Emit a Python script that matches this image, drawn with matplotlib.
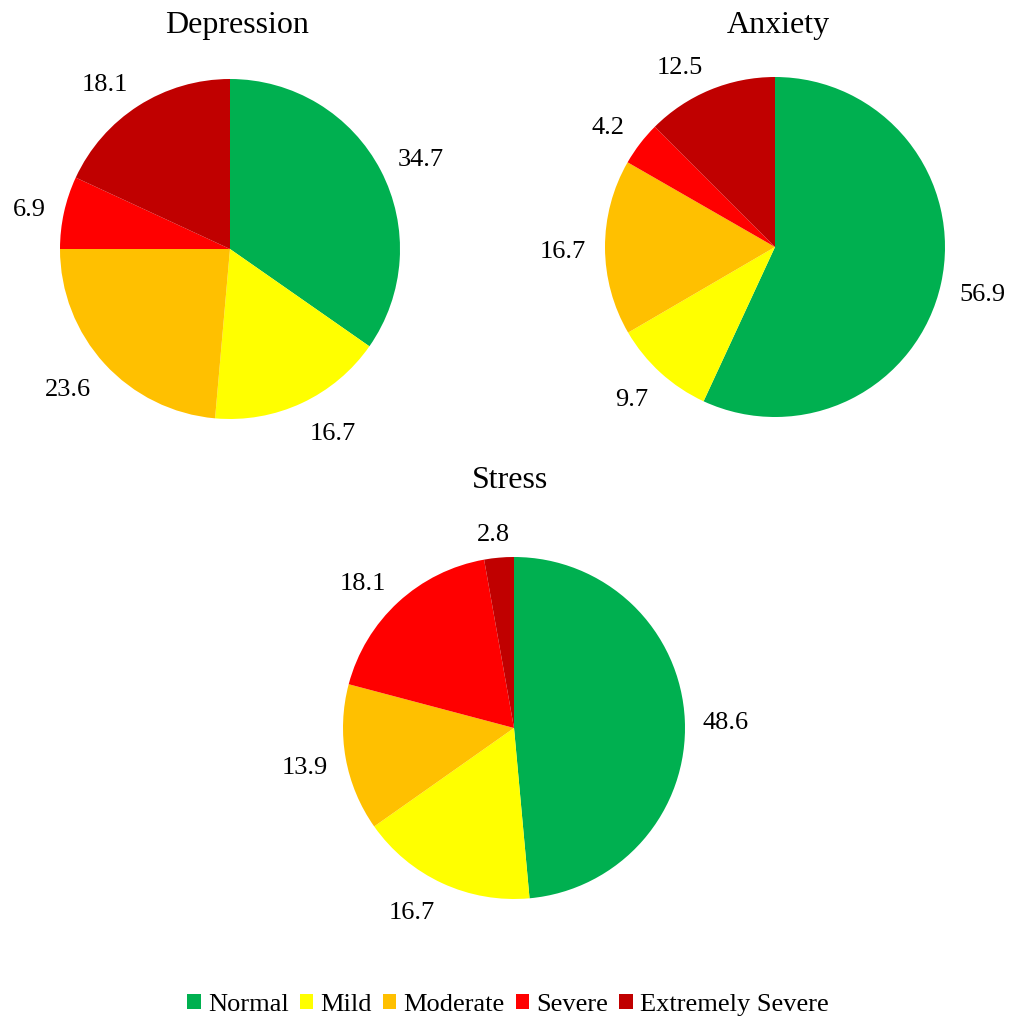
import matplotlib
matplotlib.use("Agg")
import numpy as np
import matplotlib.pyplot as plt
from matplotlib.patches import Patch

plt.rcParams['font.family'] = ['Liberation Serif', 'DejaVu Serif']

categories = ["Normal", "Mild", "Moderate", "Severe", "Extremely Severe"]
colors = ["#00B050", "#FFFF00", "#FFC000", "#FF0000", "#C00000"]
depression = [34.7, 16.7, 23.6, 6.9, 18.1]
anxiety = [56.9, 9.7, 16.7, 4.2, 12.5]
stress = [48.6, 16.7, 13.9, 18.1, 2.8]
titles = ["Depression", "Anxiety", "Stress"]

W, H = 1016, 1023
fig = plt.figure(figsize=(W / 100, H / 100), dpi=100)
renderer = fig.canvas.get_renderer()

specs = [(230, 249, 170, depression),
         (775, 247, 170, anxiety),
         (514, 728, 171, stress)]

DIST = 189.0   # px from pie centre to label anchor
CAP = 18.0     # visual height of digits, px
for cx, cy, r, vals in specs:
    ax = fig.add_axes([(cx - r) / W, (H - cy - r) / H, 2 * r / W, 2 * r / H])
    wedges, texts = ax.pie(vals, colors=colors, startangle=90, counterclock=False,
                           labels=[f"{v:.1f}" for v in vals], labeldistance=1.15,
                           textprops={'fontsize': 19}, radius=1,
                           wedgeprops={'linewidth': 0})
    ax.set_xlim(-1, 1)
    ax.set_ylim(-1, 1)
    ax.set_aspect('equal')
    ax.axis('off')
    for w, t in zip(wedges, texts):
        t.set_clip_on(False)
        th = np.deg2rad((w.theta1 + w.theta2) / 2)
        c, s = np.cos(th), np.sin(th)
        tw = t.get_window_extent(renderer).width
        kx = np.clip(3 * c, -1, 1)
        ky = np.clip(1.5 * s, -1, 1)
        vx = DIST * c + tw / 2 * kx
        vy = DIST * s + CAP / 2 * ky - 1.5
        t.set_position((vx / r, (vy - CAP / 2) / r))
        t.set_ha('center')
        t.set_va('baseline')

fig.text(237 / W, 1 - 25 / H, titles[0], ha='center', va='center', fontsize=23)
fig.text(778 / W, 1 - 25 / H, titles[1], ha='center', va='center', fontsize=23)
fig.text(510 / W, 1 - 480 / H, titles[2], ha='center', va='center', fontsize=23)

handles = [Patch(facecolor=c, edgecolor='none') for c in colors]
fig.legend(handles, categories, loc='center', bbox_to_anchor=(0.5, 1 - 1005 / H),
           ncol=5, frameon=False, fontsize=19, handlelength=0.5, handleheight=0.5,
           handletextpad=0.27, columnspacing=0.43)

fig.savefig("out.png", dpi=100)
